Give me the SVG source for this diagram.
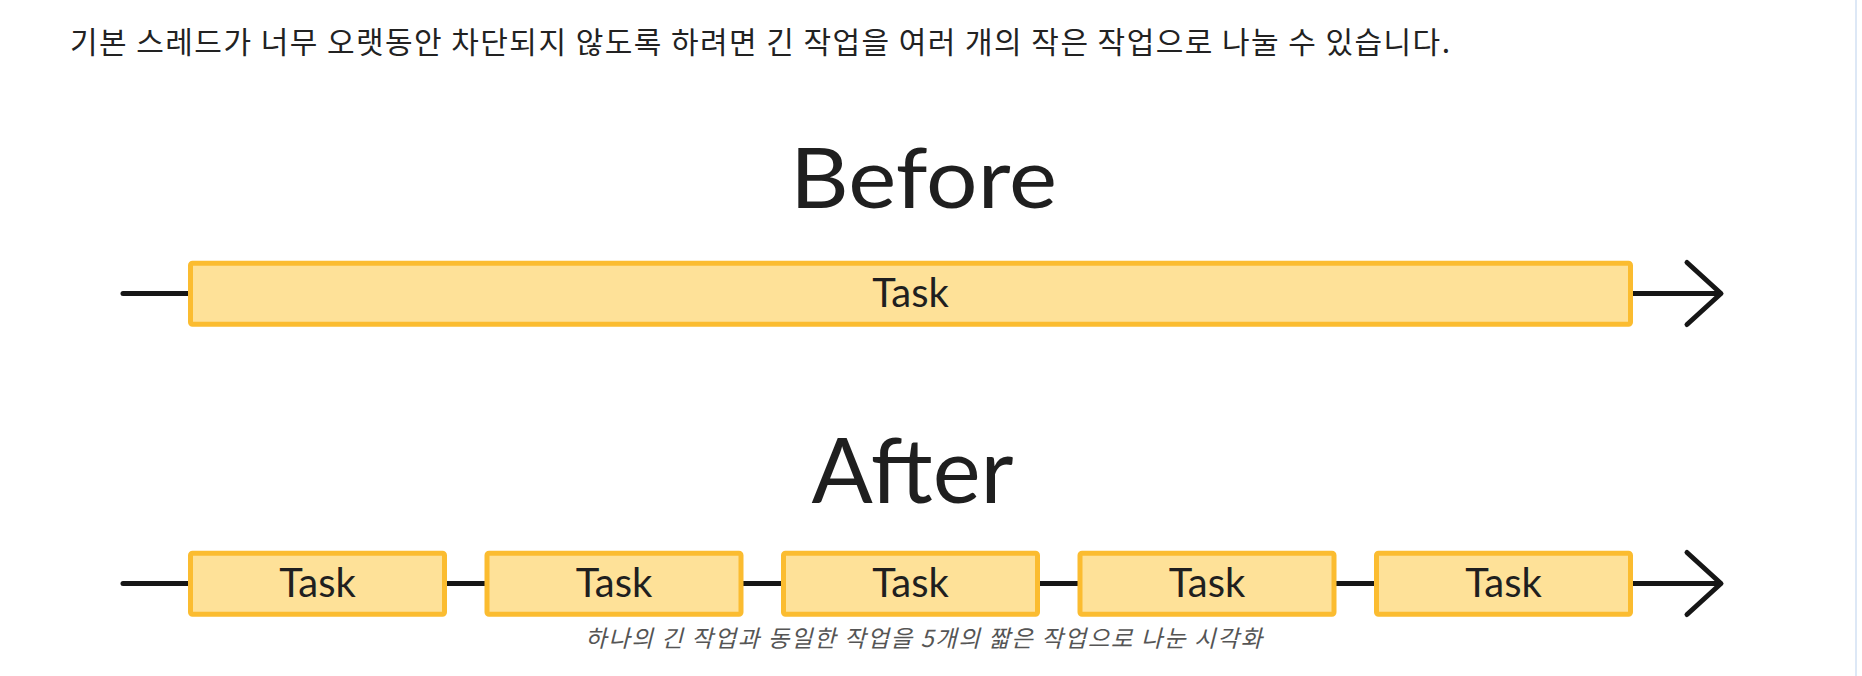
<svg xmlns="http://www.w3.org/2000/svg" width="1862" height="676" viewBox="0 0 1862 676">
<style>
.task{fill:#fee198;stroke:#fbbc30;stroke-width:5}
.tl{font-family:Lato,"Open Sans",sans-serif;font-size:40px;fill:#1f1f1f;text-anchor:middle}
.title{font-family:Lato,"Open Sans",sans-serif;fill:#1f1f1f;text-anchor:middle}
.ln{stroke:#161616;stroke-width:5;fill:none;stroke-linecap:round;stroke-linejoin:round}
</style>
<rect x="0" y="0" width="1862" height="676" fill="#ffffff"/>
<rect x="1855" y="0" width="2" height="676" fill="#dde8f6"/>
<text x="70" y="53" font-family="'Noto Sans CJK KR',sans-serif" font-size="30" fill="#222222" textLength="1380" lengthAdjust="spacing">기본 스레드가 너무 오랫동안 차단되지 않도록 하려면 긴 작업을 여러 개의 작은 작업으로 나눌 수 있습니다.</text>
<text class="title" x="923.5" y="208" font-size="83" textLength="267" lengthAdjust="spacingAndGlyphs">Before</text>
<text class="title" x="912.5" y="503" font-size="91" textLength="202" lengthAdjust="spacingAndGlyphs">After</text>
<g id="connectors">
<line class="ln" x1="123" y1="293.5" x2="1719" y2="293.5"/>
<polyline class="ln" points="1687,262.5 1721,293.5 1687,324.5"/>
<line class="ln" x1="123" y1="583.5" x2="1719" y2="583.5"/>
<polyline class="ln" points="1687,552.5 1721,583.5 1687,614.5"/>
</g>
<g id="before-task">
<rect class="task" x="190.5" y="263.2" width="1440" height="61" rx="2"/>
<text class="tl" x="910.5" y="307">Task</text>
</g>
<g id="after-task-1">
<rect class="task" x="190.5" y="553.2" width="254" height="61" rx="2"/>
<text class="tl" x="317.5" y="597">Task</text>
</g>
<g id="after-task-2">
<rect class="task" x="487" y="553.2" width="254" height="61" rx="2"/>
<text class="tl" x="614" y="597">Task</text>
</g>
<g id="after-task-3">
<rect class="task" x="783.5" y="553.2" width="254" height="61" rx="2"/>
<text class="tl" x="910.5" y="597">Task</text>
</g>
<g id="after-task-4">
<rect class="task" x="1080" y="553.2" width="254" height="61" rx="2"/>
<text class="tl" x="1207" y="597">Task</text>
</g>
<g id="after-task-5">
<rect class="task" x="1376.5" y="553.2" width="254" height="61" rx="2"/>
<text class="tl" x="1503.5" y="597">Task</text>
</g>
<text x="923.5" y="647" font-family="'Noto Sans CJK KR',sans-serif" font-size="23.5" font-style="italic" fill="#555555" text-anchor="middle" textLength="677" lengthAdjust="spacing">하나의 긴 작업과 동일한 작업을 5개의 짧은 작업으로 나눈 시각화</text>
</svg>
